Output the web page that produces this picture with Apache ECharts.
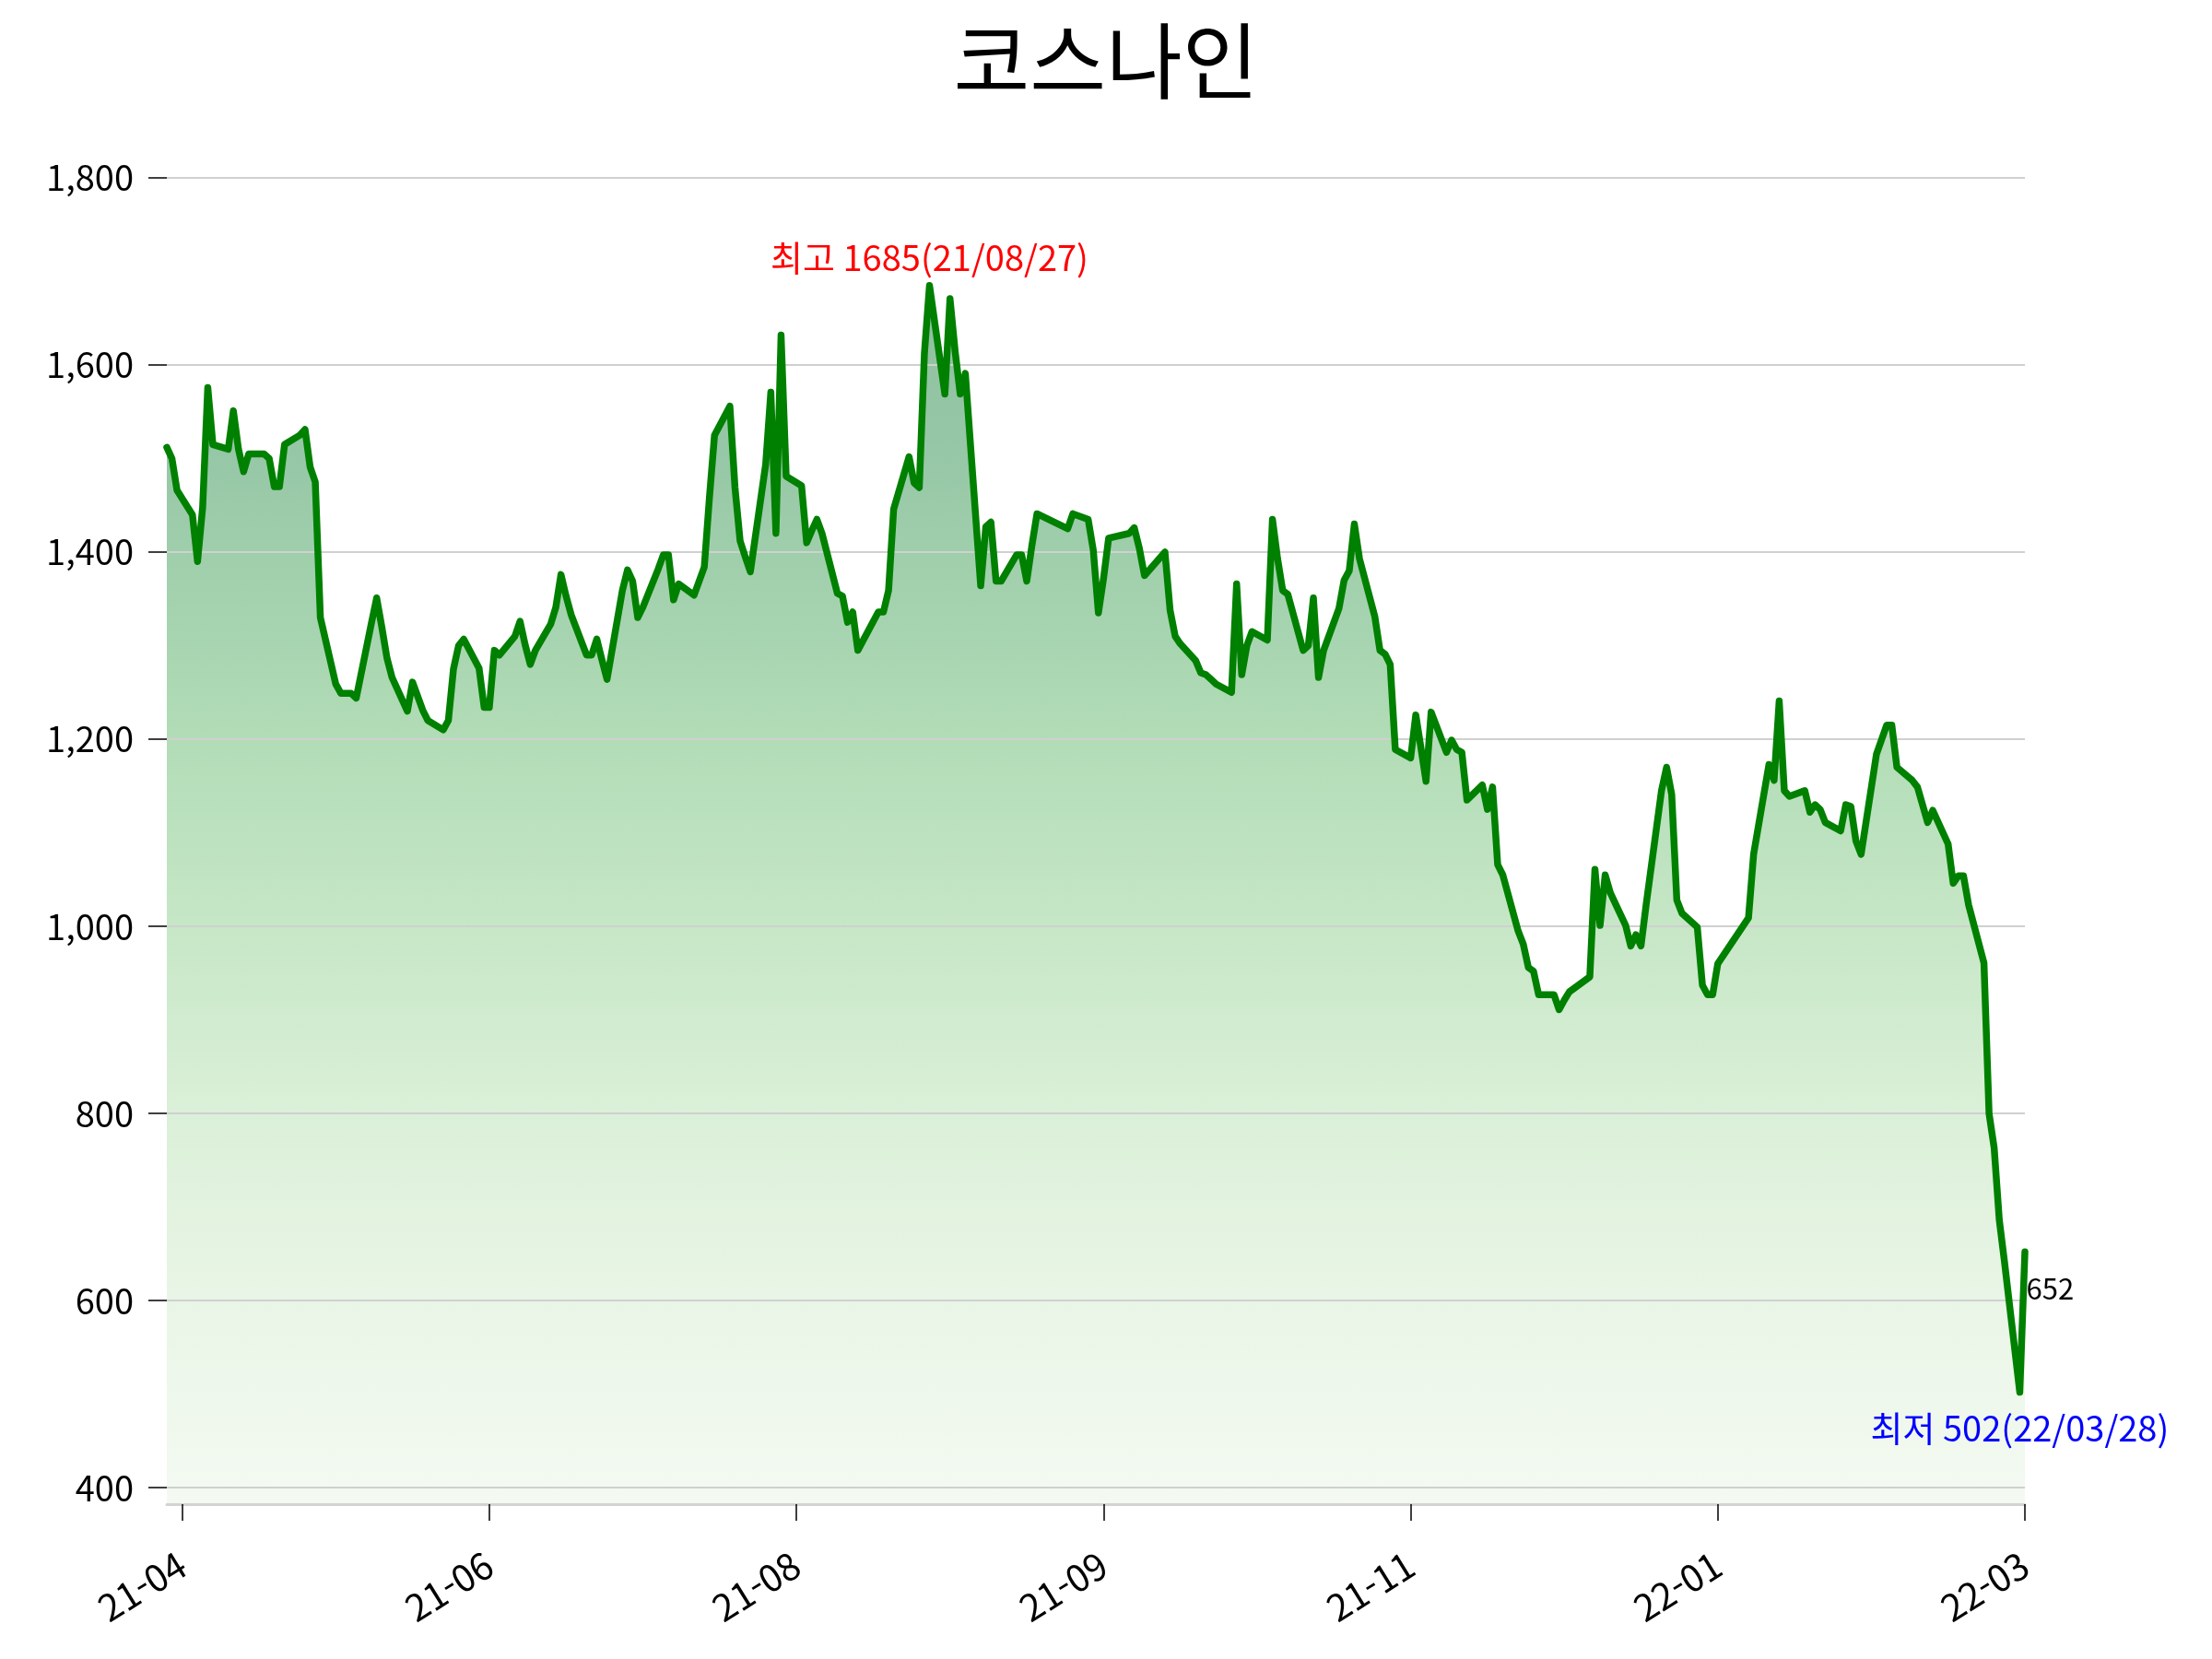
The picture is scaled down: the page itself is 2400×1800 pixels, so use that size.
<!DOCTYPE html>
<html lang="ko">
<head>
    <meta charset="UTF-8">
    <title>코스나인</title>
    <script src="https://cdn.jsdelivr.net/npm/echarts@6/dist/echarts.min.js"></script>
</head>
<body style="margin:0;width:2400px;height:1800px;background:#fff">
    <div id="container" style="width:2400px;height:1800px"></div>
</body>
<script>
    // 거래일 (일봉 종가)
    var dates = [
        '2021-03-31',
        '2021-04-01','2021-04-02','2021-04-05','2021-04-06','2021-04-07','2021-04-08','2021-04-09','2021-04-12','2021-04-13','2021-04-14','2021-04-15','2021-04-16','2021-04-19','2021-04-20','2021-04-21','2021-04-22','2021-04-23','2021-04-26','2021-04-27','2021-04-28','2021-04-29','2021-04-30',
        '2021-05-03','2021-05-04','2021-05-06','2021-05-07','2021-05-10','2021-05-11','2021-05-12','2021-05-13','2021-05-14','2021-05-17','2021-05-18','2021-05-20','2021-05-21','2021-05-24','2021-05-25','2021-05-26','2021-05-27','2021-05-28','2021-05-31',
        '2021-06-01','2021-06-02','2021-06-03','2021-06-04','2021-06-07','2021-06-08','2021-06-09','2021-06-10','2021-06-11','2021-06-14','2021-06-15','2021-06-16','2021-06-17','2021-06-18','2021-06-21','2021-06-22','2021-06-23','2021-06-24','2021-06-25','2021-06-28','2021-06-29','2021-06-30',
        '2021-07-01','2021-07-02','2021-07-05','2021-07-06','2021-07-07','2021-07-08','2021-07-09','2021-07-12','2021-07-13','2021-07-14','2021-07-15','2021-07-16','2021-07-19','2021-07-20','2021-07-21','2021-07-22','2021-07-23','2021-07-26','2021-07-27','2021-07-28','2021-07-29','2021-07-30',
        '2021-08-02','2021-08-03','2021-08-04','2021-08-05','2021-08-06','2021-08-09','2021-08-10','2021-08-11','2021-08-12','2021-08-13','2021-08-17','2021-08-18','2021-08-19','2021-08-20','2021-08-23','2021-08-24','2021-08-25','2021-08-26','2021-08-27','2021-08-30','2021-08-31',
        '2021-09-01','2021-09-02','2021-09-03','2021-09-06','2021-09-07','2021-09-08','2021-09-09','2021-09-10','2021-09-13','2021-09-14','2021-09-15','2021-09-16','2021-09-17','2021-09-23','2021-09-24','2021-09-27','2021-09-28','2021-09-29','2021-09-30',
        '2021-10-01','2021-10-05','2021-10-06','2021-10-07','2021-10-08','2021-10-12','2021-10-13','2021-10-14','2021-10-15','2021-10-18','2021-10-19','2021-10-20','2021-10-21','2021-10-22','2021-10-25','2021-10-26','2021-10-27','2021-10-28','2021-10-29',
        '2021-11-01','2021-11-02','2021-11-03','2021-11-04','2021-11-05','2021-11-08','2021-11-09','2021-11-10','2021-11-11','2021-11-12','2021-11-15','2021-11-16','2021-11-17','2021-11-18','2021-11-19','2021-11-22','2021-11-23','2021-11-24','2021-11-25','2021-11-26','2021-11-29','2021-11-30',
        '2021-12-01','2021-12-02','2021-12-03','2021-12-06','2021-12-07','2021-12-08','2021-12-09','2021-12-10','2021-12-13','2021-12-14','2021-12-15','2021-12-16','2021-12-17','2021-12-20','2021-12-21','2021-12-22','2021-12-23','2021-12-24','2021-12-27','2021-12-28','2021-12-29','2021-12-30',
        '2022-01-03','2022-01-04','2022-01-05','2022-01-06','2022-01-07','2022-01-10','2022-01-11','2022-01-12','2022-01-13','2022-01-14','2022-01-17','2022-01-18','2022-01-19','2022-01-20','2022-01-21','2022-01-24','2022-01-25','2022-01-26','2022-01-27','2022-01-28',
        '2022-02-03','2022-02-04','2022-02-07','2022-02-08','2022-02-09','2022-02-10','2022-02-11','2022-02-14','2022-02-15','2022-02-16','2022-02-17','2022-02-18','2022-02-21','2022-02-22','2022-02-23','2022-02-24','2022-02-25','2022-02-28',
        '2022-03-02','2022-03-03','2022-03-04','2022-03-07','2022-03-08','2022-03-10','2022-03-11','2022-03-14','2022-03-15','2022-03-16','2022-03-17','2022-03-18','2022-03-21','2022-03-22','2022-03-23','2022-03-24','2022-03-25','2022-03-28','2022-03-29'
    ];

    var closes = [
        1512,
        1500,1466,1440,1390,1448,1576,1515,1510,1551,1510,1486,1505,1505,1500,1470,1470,1515,1525,1531,1491,1475,1330,
        1259,1249,1249,1244,1325,1351,1320,1287,1266,1230,1261,1231,1220,1210,1220,1275,1300,1307,1276,
        1234,1234,1295,1290,1310,1326,1301,1280,1295,1323,1341,1376,1353,1333,1290,1290,1307,1285,1264,1359,1381,1369,
        1330,1341,1382,1397,1397,1349,1366,1354,1369,1384,1458,1525,1556,1469,1412,1395,1379,1494,1571,1420,1632,1481,
        1471,1410,1423,1435,1420,1356,1353,1325,1336,1295,1336,1336,1359,1446,1502,1474,1469,1612,1685,1569,1671,
        1615,1569,1591,1364,1427,1432,1369,1369,1397,1397,1369,1407,1441,1425,1441,1435,1402,1335,1372,
        1415,1420,1426,1404,1375,1400,1338,1310,1302,1284,1271,1269,1264,1259,1250,1366,1269,1300,1315,
        1306,1435,1393,1359,1355,1295,1300,1351,1266,1295,1340,1370,1380,1430,1393,1331,1295,1291,1280,1189,1180,1226,
        1191,1155,1229,1186,1199,1189,1186,1135,1151,1125,1149,1066,1055,995,981,956,952,927,927,911,921,930,
        946,1061,1001,1055,1036,1001,979,991,979,1023,1145,1170,1141,1028,1014,999,937,927,927,960,
        1009,1077,1173,1156,1241,1145,1139,1145,1122,1130,1125,1111,1102,1130,1128,1091,1077,1184,
        1215,1215,1170,1156,1149,1111,1124,1088,1046,1054,1054,1023,961,800,763,686,642,502,652
    ];

    // x축 눈금 (60일 간격)
    var tickDates = ['2021-04-03','2021-06-02','2021-08-01','2021-09-30','2021-11-29','2022-01-28','2022-03-29'];
    var tickLabels = ['21-04','21-06','21-08','21-09','21-11','22-01','22-03'];
    var yTicks = [400,600,800,1000,1200,1400,1600,1800];

    var FONT = 'Noto Sans CJK KR';

    function ts(s) {
        var p = s.split('-');
        return new Date(+p[0], +p[1] - 1, +p[2]).getTime();
    }
    function short(s) {
        return s.slice(2).replace(/-/g, '/');
    }

    var seriesData = dates.map(function (d, i) { return [ts(d), closes[i]]; });
    var tickTs = tickDates.map(ts);

    var hiIdx = 0, loIdx = 0;
    closes.forEach(function (v, i) {
        if (v > closes[hiIdx]) hiIdx = i;
        if (v < closes[loIdx]) loIdx = i;
    });
    var lastIdx = closes.length - 1;

    var dom = document.getElementById('container');
    var myChart = echarts.init(dom);

    var option = {
        animation: false,
        backgroundColor: '#fff',
        textStyle: {fontFamily: FONT},
        title: {
            text: '코스나인',
            left: 'center',
            top: 16,
            textStyle: {fontFamily: FONT, fontSize: 90, fontWeight: 'normal', color: '#000'}
        },
        grid: {left: 181, right: 203, top: 193, bottom: 168, containLabel: false},
        xAxis: {
            type: 'value',
            min: ts(dates[0]),
            max: ts(dates[lastIdx]),
            z: 2,
            axisLine: {show: true, lineStyle: {color: '#d3d3d3', width: 3}},
            axisTick: {show: true, length: 18, customValues: tickTs, lineStyle: {color: '#000', width: 1.5}},
            axisLabel: {
                customValues: tickTs,
                rotate: 32,
                margin: 62,
                fontSize: 40,
                color: '#000',
                fontFamily: FONT,
                formatter: function (v) {
                    var k = tickTs.indexOf(v);
                    return k >= 0 ? tickLabels[k] : '';
                }
            },
            splitLine: {show: false}
        },
        yAxis: {
            type: 'value',
            min: 382.4,
            max: 1800,
            z: 2,
            axisLine: {show: false},
            axisTick: {show: true, length: 20, customValues: yTicks, lineStyle: {color: '#000', width: 1.5}},
            axisLabel: {
                customValues: yTicks,
                margin: 36,
                fontSize: 38,
                color: '#000',
                fontFamily: FONT,
                formatter: function (v) { return v.toLocaleString('en-US'); }
            },
            splitLine: {show: true, lineStyle: {color: '#d0d0d0', width: 2}}
        },
        series: [
            {
                type: 'line',
                data: seriesData,
                z: 1,
                silent: true,
                symbol: 'none',
                lineStyle: {width: 0, opacity: 0},
                areaStyle: {
                    opacity: 1,
                    color: new echarts.graphic.LinearGradient(0, 0, 0, 1, [
                        {offset: 0, color: '#8fc09e'},
                        {offset: 0.14, color: '#96c7a6'},
                        {offset: 0.37, color: '#b1dcb6'},
                        {offset: 0.53, color: '#c7e7c7'},
                        {offset: 0.68, color: '#dbf0d8'},
                        {offset: 0.83, color: '#e9f5e6'},
                        {offset: 1, color: '#f4faf2'}
                    ])
                }
            },
            {
                type: 'line',
                data: seriesData,
                z: 3,
                symbol: 'none',
                lineStyle: {color: '#008000', width: 7.5, join: 'round', cap: 'round'},
                markPoint: {
                    symbol: 'circle',
                    symbolSize: 1,
                    itemStyle: {color: 'rgba(0,0,0,0)'},
                    data: [
                        {
                            coord: seriesData[hiIdx],
                            label: {
                                show: true, position: 'top', distance: 11,
                                color: '#ff0000', fontSize: 38, fontFamily: FONT,
                                formatter: '최고 ' + closes[hiIdx] + '(' + short(dates[hiIdx]) + ')'
                            }
                        },
                        {
                            coord: seriesData[loIdx],
                            label: {
                                show: true, position: 'bottom', distance: 19,
                                color: '#0000ff', fontSize: 38, fontFamily: FONT,
                                formatter: '최저 ' + closes[loIdx] + '(' + short(dates[loIdx]) + ')'
                            }
                        },
                        {
                            coord: seriesData[lastIdx],
                            label: {
                                show: true, position: [2, 25],
                                color: '#000', fontSize: 31, fontFamily: FONT,
                                formatter: String(closes[lastIdx])
                            }
                        }
                    ]
                }
            }
        ]
    };

    myChart.setOption(option, true);
</script>
</html>
